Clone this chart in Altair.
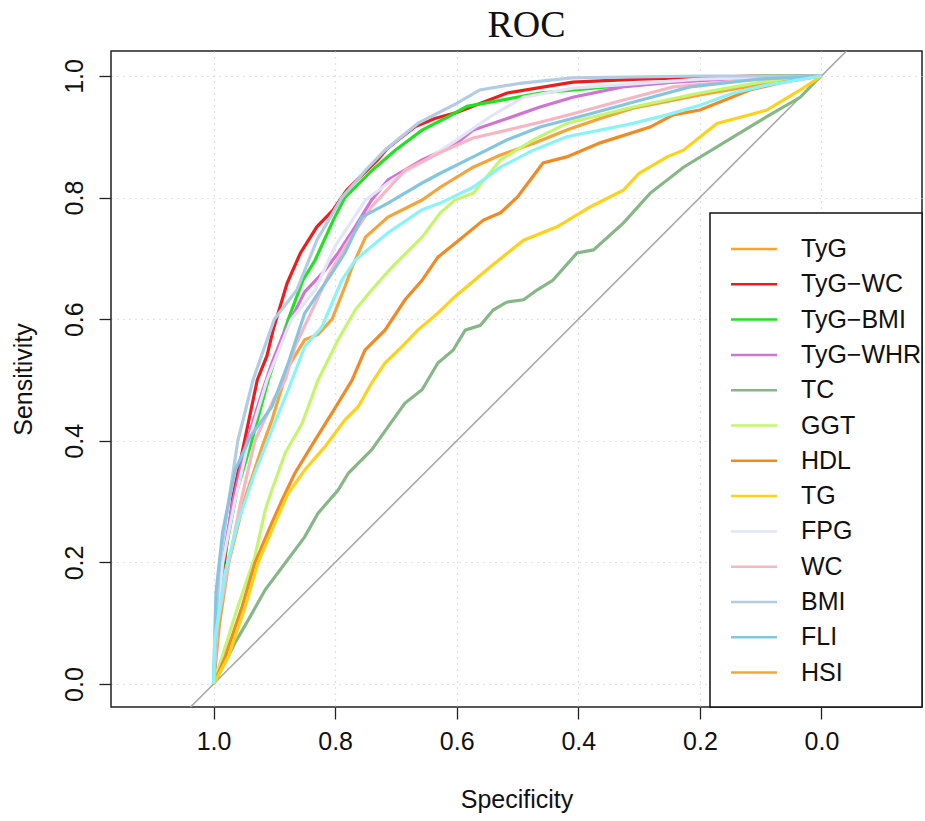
import altair as alt
import pandas as pd

# ---------------- data ----------------
NAMES = ["TyG", "TyG\u2212WC", "TyG\u2212BMI", "TyG\u2212WHR", "TC", "GGT", "HDL",
         "TG", "FPG", "WC", "BMI", "FLI", "HSI"]
COLORS = ["#F5A43A", "#EE1C1C", "#1EE31E", "#D073D6", "#86B886", "#C5F56E", "#F28A22",
          "#FFD11A", "#E4E4F6", "#F9B5C2", "#B2CCE6", "#86C5E2", "#EFA83C"]
HSI_LINE_COLOR = "#8AF3F7"

TYG_SPEC = [1.0, 0.99, 0.975, 0.95, 0.92, 0.904, 0.89, 0.877, 0.85, 0.828, 0.805, 0.784, 0.772, 0.75, 0.713, 0.657, 0.627, 0.573, 0.528, 0.474, 0.419, 0.364, 0.31, 0.2, 0.09, 0.0]
TYG_SENS = [0.0, 0.1, 0.2, 0.3, 0.39, 0.434, 0.48, 0.522, 0.566, 0.575, 0.6, 0.653, 0.686, 0.735, 0.768, 0.796, 0.817, 0.85, 0.87, 0.889, 0.911, 0.93, 0.947, 0.969, 0.988, 1.0]

WC_T_SPEC = [1.0, 0.994, 0.982, 0.968, 0.951, 0.928, 0.912, 0.902, 0.879, 0.857, 0.83, 0.803, 0.781, 0.764, 0.73, 0.715, 0.696, 0.668, 0.636, 0.6, 0.517, 0.409, 0.3, 0.114, 0.0]
WC_T_SENS = [0.0, 0.1, 0.2, 0.308, 0.39, 0.5, 0.54, 0.582, 0.659, 0.709, 0.752, 0.78, 0.812, 0.829, 0.862, 0.88, 0.895, 0.917, 0.93, 0.94, 0.972, 0.99, 0.995, 1.0, 1.0]

BMI_T_SPEC = [1.0, 0.994, 0.984, 0.961, 0.937, 0.91, 0.877, 0.853, 0.833, 0.803, 0.784, 0.739, 0.701, 0.657, 0.614, 0.583, 0.463, 0.32, 0.2, 0.1, 0.0]
BMI_T_SENS = [0.0, 0.1, 0.2, 0.32, 0.4, 0.5, 0.6, 0.664, 0.697, 0.763, 0.8, 0.845, 0.878, 0.911, 0.933, 0.95, 0.972, 0.985, 0.993, 1.0, 1.0]

WHR_T_SPEC = [1.0, 0.995, 0.985, 0.968, 0.945, 0.92, 0.904, 0.887, 0.85, 0.817, 0.795, 0.767, 0.74, 0.713, 0.657, 0.603, 0.573, 0.517, 0.463, 0.409, 0.327, 0.244, 0.1, 0.0]
WHR_T_SENS = [0.0, 0.1, 0.2, 0.3, 0.4, 0.48, 0.528, 0.571, 0.645, 0.68, 0.709, 0.752, 0.796, 0.829, 0.862, 0.887, 0.911, 0.93, 0.949, 0.965, 0.982, 0.99, 0.998, 1.0]

TC_SPEC = [1.0, 0.993, 0.965, 0.943, 0.915, 0.882, 0.85, 0.828, 0.795, 0.778, 0.74, 0.713, 0.685, 0.657, 0.631, 0.606, 0.586, 0.561, 0.54, 0.518, 0.49, 0.468, 0.442, 0.402, 0.375, 0.326, 0.282, 0.227, 0.145, 0.09, 0.035, 0.008, 0.0]
TC_SENS = [0.0, 0.012, 0.067, 0.105, 0.155, 0.199, 0.242, 0.281, 0.319, 0.347, 0.385, 0.423, 0.462, 0.484, 0.528, 0.549, 0.582, 0.59, 0.615, 0.628, 0.632, 0.648, 0.664, 0.709, 0.714, 0.758, 0.807, 0.85, 0.9, 0.933, 0.965, 0.993, 1.0]

GGT_SPEC = [1.0, 0.986, 0.96, 0.932, 0.915, 0.904, 0.882, 0.854, 0.828, 0.795, 0.767, 0.74, 0.706, 0.657, 0.627, 0.603, 0.573, 0.528, 0.474, 0.419, 0.31, 0.2, 0.1, 0.0]
GGT_SENS = [0.0, 0.044, 0.127, 0.209, 0.286, 0.319, 0.38, 0.429, 0.5, 0.566, 0.615, 0.648, 0.686, 0.735, 0.775, 0.796, 0.807, 0.862, 0.895, 0.922, 0.949, 0.972, 0.99, 1.0]

HDL_SPEC = [1.0, 0.981, 0.953, 0.932, 0.904, 0.887, 0.866, 0.833, 0.805, 0.772, 0.751, 0.718, 0.685, 0.657, 0.631, 0.6, 0.556, 0.528, 0.5, 0.458, 0.419, 0.364, 0.282, 0.244, 0.2, 0.118, 0.063, 0.0]
HDL_SENS = [0.0, 0.044, 0.127, 0.199, 0.265, 0.303, 0.347, 0.401, 0.446, 0.5, 0.549, 0.582, 0.632, 0.664, 0.702, 0.727, 0.763, 0.775, 0.801, 0.857, 0.867, 0.89, 0.916, 0.936, 0.944, 0.977, 0.99, 1.0]

TG_SPEC = [1.0, 0.976, 0.948, 0.927, 0.899, 0.877, 0.85, 0.817, 0.784, 0.762, 0.74, 0.718, 0.69, 0.664, 0.631, 0.603, 0.545, 0.49, 0.435, 0.38, 0.326, 0.3, 0.254, 0.227, 0.172, 0.09, 0.035, 0.0]
TG_SENS = [0.0, 0.044, 0.127, 0.199, 0.265, 0.314, 0.352, 0.39, 0.434, 0.456, 0.495, 0.528, 0.555, 0.582, 0.61, 0.637, 0.686, 0.73, 0.752, 0.785, 0.812, 0.84, 0.867, 0.878, 0.922, 0.944, 0.977, 1.0]

FPG_SPEC = [1.0, 0.995, 0.985, 0.965, 0.942, 0.912, 0.872, 0.833, 0.8, 0.75, 0.706, 0.65, 0.6, 0.545, 0.49, 0.409, 0.2, 0.0]
FPG_SENS = [0.0, 0.1, 0.2, 0.3, 0.4, 0.5, 0.6, 0.648, 0.72, 0.796, 0.829, 0.862, 0.895, 0.933, 0.965, 0.98, 0.995, 1.0]

WC_SPEC = [1.0, 0.993, 0.975, 0.955, 0.932, 0.9, 0.882, 0.866, 0.84, 0.812, 0.784, 0.74, 0.685, 0.619, 0.573, 0.517, 0.463, 0.409, 0.327, 0.244, 0.1, 0.0]
WC_SENS = [0.0, 0.1, 0.2, 0.3, 0.4, 0.47, 0.5, 0.555, 0.61, 0.67, 0.719, 0.785, 0.845, 0.878, 0.898, 0.911, 0.924, 0.938, 0.96, 0.982, 0.995, 1.0]

BMI_SPEC = [1.0, 0.996, 0.99, 0.975, 0.96, 0.935, 0.9, 0.863, 0.83, 0.789, 0.75, 0.718, 0.664, 0.6, 0.562, 0.496, 0.41, 0.2, 0.0]
BMI_SENS = [0.0, 0.1, 0.2, 0.3, 0.4, 0.5, 0.6, 0.648, 0.73, 0.8, 0.845, 0.878, 0.922, 0.955, 0.977, 0.988, 0.997, 1.0, 1.0]

FLI_SPEC = [1.0, 0.996, 0.985, 0.965, 0.94, 0.904, 0.877, 0.85, 0.805, 0.784, 0.756, 0.713, 0.657, 0.627, 0.573, 0.517, 0.463, 0.38, 0.298, 0.216, 0.1, 0.0]
FLI_SENS = [0.0, 0.15, 0.25, 0.35, 0.406, 0.456, 0.528, 0.61, 0.676, 0.709, 0.768, 0.791, 0.824, 0.84, 0.867, 0.895, 0.916, 0.938, 0.96, 0.982, 0.995, 1.0]

HSI_SPEC = [1.0, 0.998, 0.981, 0.96, 0.932, 0.904, 0.877, 0.85, 0.822, 0.789, 0.767, 0.713, 0.657, 0.627, 0.573, 0.528, 0.474, 0.419, 0.364, 0.31, 0.254, 0.2, 0.145, 0.09, 0.0]
HSI_SENS = [0.0, 0.072, 0.183, 0.265, 0.347, 0.418, 0.484, 0.555, 0.587, 0.664, 0.697, 0.742, 0.78, 0.791, 0.817, 0.85, 0.878, 0.9, 0.911, 0.922, 0.936, 0.952, 0.972, 0.985, 1.0]

DIAG_SPEC = [1.0378, -0.0411]
DIAG_SENS = [-0.0378, 1.0411]

X_TICKS = [1.0, 0.8, 0.6, 0.4, 0.2, 0.0]
Y_TICKS = [0.0, 0.2, 0.4, 0.6, 0.8, 1.0]
X_DOMAIN = [-0.1653, 1.1686]
Y_DOMAIN = [-0.0378, 1.0411]

# ---------------- tables ----------------
curve_sets = [
    ("TyG", TYG_SPEC, TYG_SENS), ("TyG\u2212WC", WC_T_SPEC, WC_T_SENS),
    ("TyG\u2212BMI", BMI_T_SPEC, BMI_T_SENS), ("TyG\u2212WHR", WHR_T_SPEC, WHR_T_SENS),
    ("TC", TC_SPEC, TC_SENS), ("GGT", GGT_SPEC, GGT_SENS), ("HDL", HDL_SPEC, HDL_SENS),
    ("TG", TG_SPEC, TG_SENS), ("FPG", FPG_SPEC, FPG_SENS), ("WC", WC_SPEC, WC_SENS),
    ("BMI", BMI_SPEC, BMI_SENS), ("FLI", FLI_SPEC, FLI_SENS),
]
rows = []
for k, (name, sp, se) in enumerate(curve_sets):
    for i, (a, b) in enumerate(zip(sp, se)):
        rows.append({"name": name, "k": k, "i": i, "spec": a, "sens": b})
curves = pd.DataFrame(rows)
hsi = pd.DataFrame({"name": "HSI", "i": range(len(HSI_SPEC)), "spec": HSI_SPEC, "sens": HSI_SENS})
diag = pd.DataFrame({"spec": DIAG_SPEC, "sens": DIAG_SENS})

FONT = "Liberation Sans"
FS = 25
xs = alt.Scale(domain=X_DOMAIN, reverse=True, nice=False, zero=False)
ys = alt.Scale(domain=Y_DOMAIN, nice=False, zero=False)

xax = alt.Axis(values=X_TICKS, format=".1f", title="Specificity", labelFontSize=FS,
               titleFontSize=FS, titleFontWeight="normal", labelFont=FONT, titleFont=FONT,
               tickSize=12, tickColor="#222", tickWidth=1.3, domain=False,
               labelColor="#111", titleColor="#111", labelPadding=10, titlePadding=33,
               grid=True, gridDash=[1, 5], gridColor="#C4C4C4", gridWidth=1.2)
yax = alt.Axis(values=Y_TICKS, format=".1f", title="Sensitivity", labelFontSize=FS,
               titleFontSize=FS, titleFontWeight="normal", labelFont=FONT, titleFont=FONT,
               tickSize=12, tickColor="#222", tickWidth=1.3, domain=False,
               labelAngle=-90, labelAlign="center", labelBaseline="bottom",
               labelColor="#111", titleColor="#111", labelPadding=12, titlePadding=26,
               grid=True, gridDash=[1, 5], gridColor="#C4C4C4", gridWidth=1.2)

base_x = alt.X("spec:Q", scale=xs, axis=xax)
base_y = alt.Y("sens:Q", scale=ys, axis=yax)

diag_layer = alt.Chart(diag).mark_line(color="#A8A8A8", strokeWidth=1.6, clip=True).encode(
    x=base_x, y=base_y)

curve_layer = alt.Chart(curves).mark_line(strokeWidth=3.2, clip=True).encode(
    x=alt.X("spec:Q", scale=xs),
    y=alt.Y("sens:Q", scale=ys),
    color=alt.Color("name:N", scale=alt.Scale(domain=NAMES, range=COLORS),
                    sort=NAMES, title=None),
    order="i:Q",
)

hsi_layer = alt.Chart(hsi).mark_line(strokeWidth=3.2, clip=True, color=HSI_LINE_COLOR).encode(
    x=alt.X("spec:Q", scale=xs), y=alt.Y("sens:Q", scale=ys), order="i:Q")

legend_box = alt.Chart(pd.DataFrame({"a": [0]})).mark_rect(
    fill="white", stroke="#111", strokeWidth=1.5).encode(
    x=alt.value(599), x2=alt.value(811), y=alt.value(162), y2=alt.value(656))

chart = alt.layer(diag_layer, curve_layer, hsi_layer, legend_box).properties(
    width=811, height=656,
    autosize=alt.AutoSizeParams(type="none"),
    padding={"left": 111, "top": 51, "right": 3, "bottom": 114},
    title=alt.TitleParams("ROC", font="Liberation Serif", fontSize=38,
                          fontWeight="normal", color="#111", anchor="middle",
                          dx=10, offset=6),
).configure_view(stroke="#222", strokeWidth=1.5).configure_legend(
    orient="none", legendX=630, legendY=185, padding=0, strokeColor=None,
    symbolType="M-2,0H2", symbolSize=529, symbolStrokeWidth=2.5,
    labelFontSize=FS, labelFont=FONT, labelColor="#111", rowPadding=9.3,
    labelOffset=34,
)

chart.save("out.html", embed_options={"renderer": "svg", "actions": False})
